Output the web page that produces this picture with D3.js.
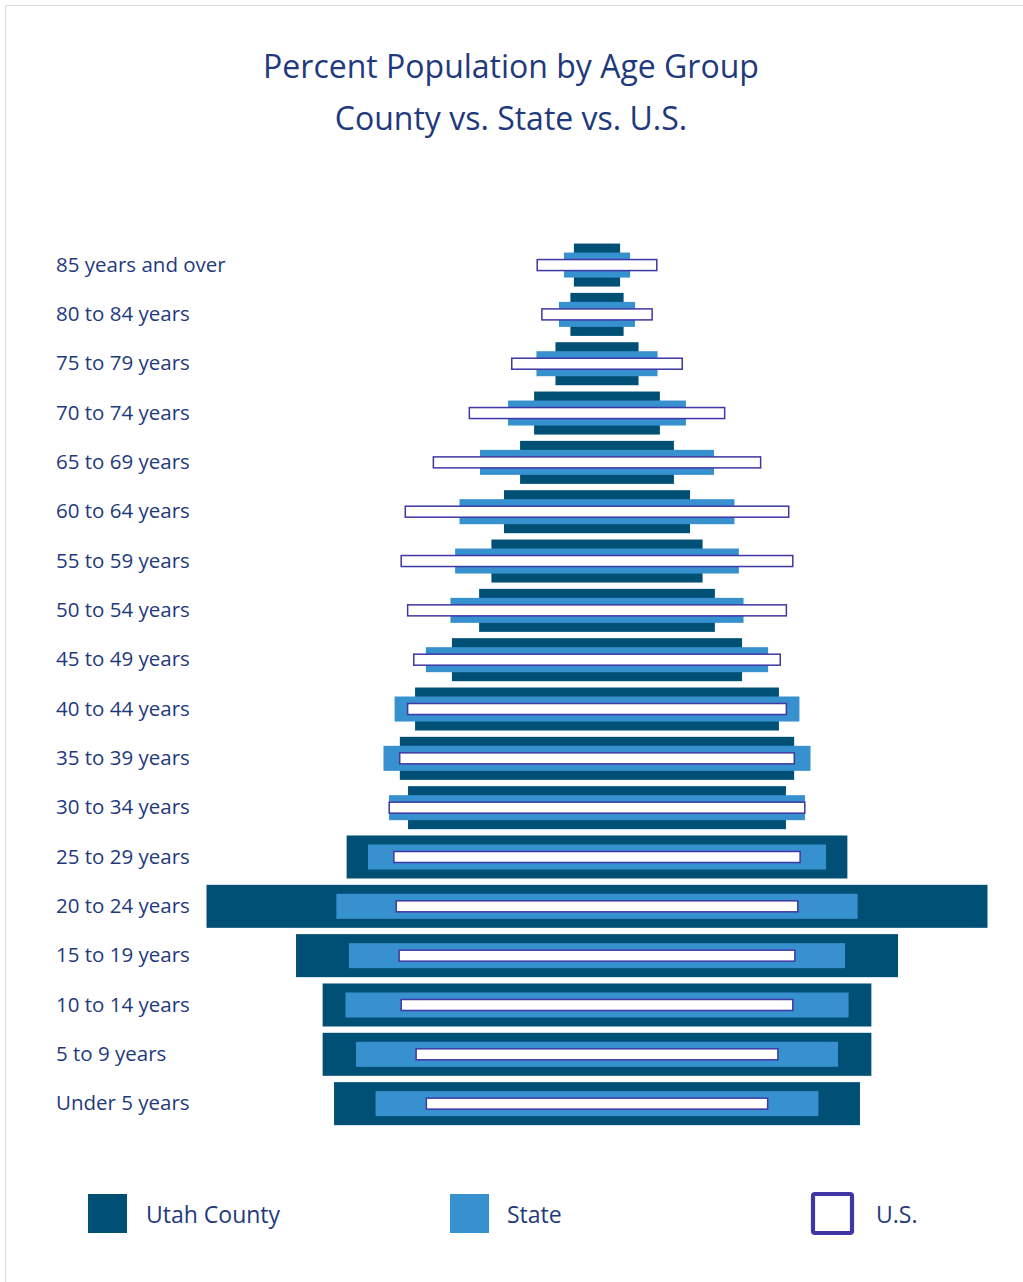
<!DOCTYPE html>
<html>
<head>
<meta charset="utf-8">
<script src="https://cdn.jsdelivr.net/npm/d3@7"></script>
<style>
  html, body { margin: 0; padding: 0; background: #fff; }
  svg { display: block; }
</style>
</head>
<body>
<svg id="chart" width="1023" height="1282"></svg>
<script>
// ---- Data (percent of population) ----
const categories = [
  "85 years and over", "80 to 84 years", "75 to 79 years", "70 to 74 years",
  "65 to 69 years", "60 to 64 years", "55 to 59 years", "50 to 54 years",
  "45 to 49 years", "40 to 44 years", "35 to 39 years", "30 to 34 years",
  "25 to 29 years", "20 to 24 years", "15 to 19 years", "10 to 14 years",
  "5 to 9 years", "Under 5 years"
];
const utahCounty = [0.79, 0.91, 1.42, 2.15, 2.63, 3.18, 3.61, 4.03, 4.96, 6.22, 6.74, 6.46, 8.56, 13.35, 10.29, 9.38, 9.38, 8.99];
const stateVals  = [1.13, 1.30, 2.07, 3.04, 4.00, 4.70, 4.85, 5.01, 5.85, 6.92, 7.30, 7.11, 7.83, 8.91, 8.48, 8.60, 8.24, 7.57];
const usVals     = [2.07, 1.91, 2.94, 4.39, 5.62, 6.58, 6.72, 6.50, 6.29, 6.50, 6.77, 7.13, 6.97, 6.89, 6.79, 6.72, 6.21, 5.86];
const seriesNames = ["Utah County", "State", "U.S."];
const titleLines = ["Percent Population by Age Group", "County vs. State vs. U.S."];

// ---- Style ----
const textColor = "#1f3a7c";
const darkColor = "#005076";
const stateColor = "#3791ce";
const usStroke = "#3f37a3";
const fontFamily = "'Open Sans', 'Noto Sans', sans-serif";

const svg = d3.select("#chart");

// border
svg.append("rect")
  .attr("x", 5.5).attr("y", 5.5)
  .attr("width", 1030).attr("height", 1300)
  .attr("fill", "none").attr("stroke", "#dedede").attr("stroke-width", 1.2);

// title
svg.append("g").selectAll("text")
  .data(titleLines).join("text")
  .attr("x", 511)
  .attr("y", (d, i) => 78 + i * 52)
  .attr("text-anchor", "middle")
  .attr("fill", textColor)
  .attr("font-family", fontFamily)
  .attr("font-size", 32)
  .text(d => d);

// scales
const cx = 597;
const pxPerPct = 58.5;
const x = d3.scaleLinear().domain([-7, 7]).range([cx - 7 * pxPerPct, cx + 7 * pxPerPct]);
const y = d3.scaleBand().domain(categories).range([240.4, 1128.3]).padding(0);
const bw = y.bandwidth();

const rows = categories.map((c, i) => ({ c, u: utahCounty[i], s: stateVals[i], us: usVals[i] }));

const g = svg.append("g");

// Utah County
g.selectAll("rect.county").data(rows).join("rect")
  .attr("class", "county")
  .attr("x", d => x(-d.u / 2))
  .attr("width", d => x(d.u / 2) - x(-d.u / 2))
  .attr("y", d => y(d.c) + bw / 2 - bw * 0.872 / 2)
  .attr("height", bw * 0.872)
  .attr("fill", darkColor);

// State
g.selectAll("rect.state").data(rows).join("rect")
  .attr("class", "state")
  .attr("x", d => x(-d.s / 2))
  .attr("width", d => x(d.s / 2) - x(-d.s / 2))
  .attr("y", d => y(d.c) + bw / 2 - bw * 0.507 / 2)
  .attr("height", bw * 0.507)
  .attr("fill", stateColor);

// U.S.
const usH = 11;
g.selectAll("rect.us").data(rows).join("rect")
  .attr("class", "us")
  .attr("x", d => x(-d.us / 2) + 0.75)
  .attr("width", d => x(d.us / 2) - x(-d.us / 2) - 1.5)
  .attr("y", d => y(d.c) + bw / 2 - usH / 2)
  .attr("height", usH)
  .attr("fill", "#ffffff")
  .attr("stroke", usStroke)
  .attr("stroke-width", 1.5);

// category labels
svg.append("g").selectAll("text")
  .data(categories).join("text")
  .attr("x", 56)
  .attr("y", d => y(d) + bw / 2)
  .attr("dy", "0.33em")
  .attr("fill", textColor)
  .attr("font-family", fontFamily)
  .attr("font-size", 20.5)
  .text(d => d);

// legend
const legend = [
  { name: seriesNames[0], sx: 88, tx: 146, type: "fill", color: darkColor },
  { name: seriesNames[1], sx: 450, tx: 507, type: "fill", color: stateColor },
  { name: seriesNames[2], sx: 811, tx: 876, type: "outline", color: usStroke }
];
const lg = svg.append("g");
legend.forEach(l => {
  if (l.type === "fill") {
    lg.append("rect").attr("x", l.sx).attr("y", 1194).attr("width", 39).attr("height", 39).attr("fill", l.color);
  } else {
    lg.append("rect").attr("x", l.sx + 2).attr("y", 1194).attr("width", 39).attr("height", 39)
      .attr("rx", 2).attr("fill", "#fff").attr("stroke", l.color).attr("stroke-width", 4.2);
  }
  lg.append("text").attr("x", l.tx).attr("y", 1223)
    .attr("fill", textColor).attr("font-family", fontFamily).attr("font-size", 23)
    .text(l.name);
});
</script>
</body>
</html>
